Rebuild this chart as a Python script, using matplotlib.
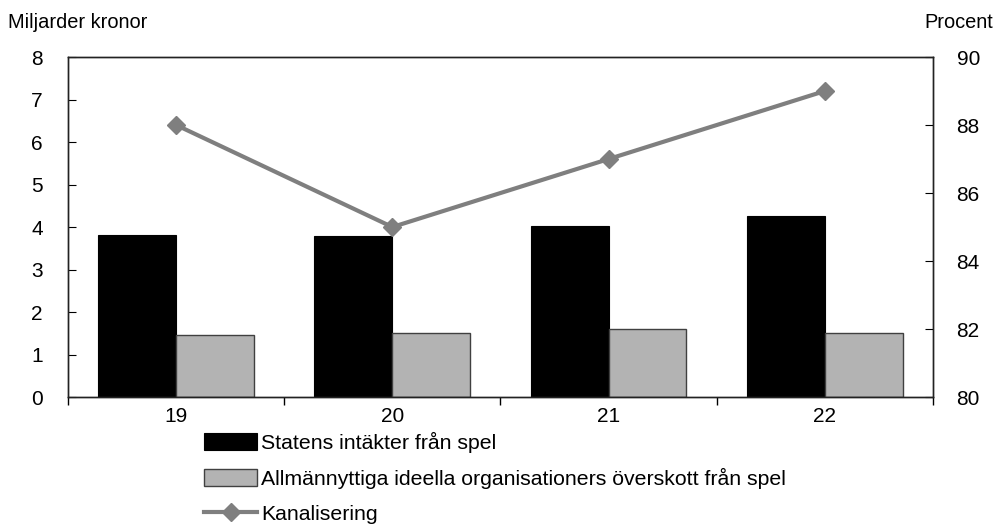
import numpy as np
import matplotlib
matplotlib.use("Agg")
import matplotlib.pyplot as plt
from matplotlib.ticker import FixedLocator

plt.rcParams["font.family"] = ["Liberation Sans", "DejaVu Sans"]

years = ["19", "20", "21", "22"]
statens = [3.82, 3.78, 4.02, 4.27]
ideella = [1.45, 1.51, 1.61, 1.51]
kanalisering = [88, 85, 87, 89]

labels = [
    "Statens intäkter från spel",
    "Allmännyttiga ideella organisationers överskott från spel",
    "Kanalisering",
]

fig = plt.figure(figsize=(9.95, 5.26), dpi=100)
ax = fig.add_axes([0.0683, 0.2452, 0.8694, 0.6464])
ax2 = ax.twinx()

x = np.arange(len(years))
w = 0.36
b1 = ax.bar(x - w / 2, statens, width=w, color="black", edgecolor="black", linewidth=0.8, zorder=2)
b2 = ax.bar(x + w / 2, ideella, width=w, color="#b3b3b3", edgecolor="#404040", linewidth=1.0, zorder=2)

ax.set_xlim(-0.5, len(years) - 0.5)
ax.set_ylim(0, 8)
ax.set_yticks(range(0, 9))
ax.set_xticks(x)
ax.set_xticklabels(years)
ax.tick_params(axis="x", which="major", length=0, pad=7, labelsize=15)
ax.xaxis.set_minor_locator(FixedLocator(np.arange(-0.5, len(years), 1.0)))
ax.tick_params(axis="x", which="minor", length=6, direction="out", width=1)
ax.tick_params(axis="y", direction="in", length=6, pad=18, labelsize=15)

ln, = ax2.plot(x, kanalisering, color="#7f7f7f", linewidth=3, marker="D",
               markersize=9, markeredgecolor="#7f7f7f", zorder=3)
ax2.set_ylim(80, 90)
ax2.set_yticks(range(80, 91, 2))
ax2.tick_params(axis="y", direction="in", length=6, pad=17, labelsize=15)

for a in (ax, ax2):
    for s in a.spines.values():
        s.set_linewidth(1.0)
        s.set_color("#222222")

fig.text(8 / 995, 1 - 22 / 526, "Miljarder kronor", fontsize=14.4, ha="left", va="center")
fig.text(993 / 995, 1 - 22 / 526, "Procent", fontsize=14.4, ha="right", va="center")

fig.legend([b1, b2, ln], labels, loc="upper left", bbox_to_anchor=(204 / 995, 1 - 432 / 526),
           frameon=False, fontsize=15.3, borderpad=0, borderaxespad=0,
           handlelength=2.5, handleheight=0.85, handletextpad=0.2, labelspacing=0.7)

fig.savefig("out.png", dpi=100)
